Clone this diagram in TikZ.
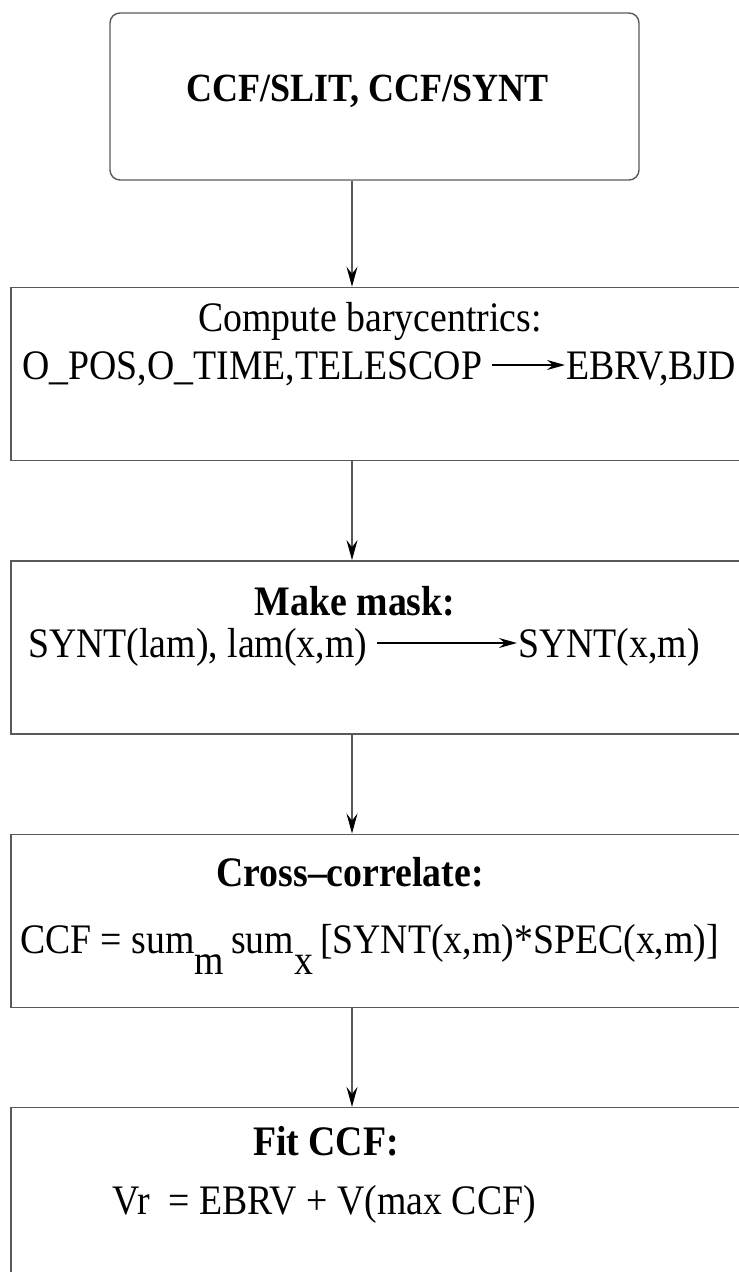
\documentclass[tikz,border=0pt]{standalone}
\usepackage{fontspec}
\setmainfont{Liberation Serif}[FakeStretch=0.9]
\usetikzlibrary{positioning,arrows.meta}

\begin{document}
\begin{tikzpicture} [
    x=1pt, y=1pt,
    node distance = 99pt,
    stage/.style   = {draw=black!65,
                      line width=1.4pt,
                      minimum width=760pt,
                      minimum height=173pt},
    head/.style    = {font=\fontsize{42}{50}\selectfont\bfseries,
                      inner sep=0pt,
                      anchor=base},
    body/.style    = {font=\fontsize{42}{50}\selectfont,
                      inner sep=0pt},
    arr/.style     = {draw=black!65,
                      line width=1.4pt,
                      -{Stealth[length=20pt,width=11pt,inset=7pt,color=black]}},
    txtarr/.style  = {line width=1.8pt,
                      shorten <=10pt, shorten >=1pt,
                      -{Stealth[length=18pt,width=10pt,inset=6pt]}}
]
\useasboundingbox (0,0) rectangle (739,-1272);
\coordinate (spine) at (352,0);

\node (start) [stage, rounded corners=10pt, minimum width=529pt, minimum height=167pt] at (374.5,-96.5) {};
\node (bary)  [stage, below=106pt of start, xshift=16.5pt] {};
\node (mask)  [stage, below=of bary] {};
\node (cross) [stage, below=of mask] {};
\node (fit)   [stage, below=of cross, minimum height=220pt] {};

\node (start-t) [head, font=\fontsize{40}{48}\selectfont\bfseries] at (367.5,-101) {CCF/SLIT, CCF/SYNT};

\node (bary-t)   [body, anchor=base] at (370,-331) {Compute barycentrics:};
\node (bary-in)  [body, anchor=base west] at (22,-379) {O\_POS,O\_TIME,TELESCOP};
\node (bary-out) [body, anchor=base east] at (736,-379) {EBRV,BJD};

\node (mask-t)   [head] at (355,-615) {Make mask:};
\node (mask-in)  [body, anchor=base west] at (28,-657) {SYNT(lam), lam(x,m)};
\node (mask-out) [body, anchor=base east] at (700,-657) {SYNT(x,m)};

\node (cross-t)  [head] at (350,-886) {Cross--correlate:};
\node (cross-l)  [body, anchor=base] at (369.5,-953) {%
CCF = sum\raisebox{-0.5em}{m}\,sum\raisebox{-0.5em}{x}\,[SYNT(x,m)*SPEC(x,m)]};

\node (fit-t)    [head] at (326,-1155) {Fit CCF:};
\node (fit-l)    [body, anchor=base west] at (112,-1214) {Vr\ \ = EBRV + V(max CCF)};

\draw[arr] (start.south -| spine) -- (bary.north -| spine);
\draw[arr] (bary.south -| spine)  -- (mask.north -| spine);
\draw[arr] (mask.south -| spine)  -- (cross.north -| spine);
\draw[arr] (cross.south -| spine) -- (fit.north -| spine);

\draw[txtarr] ([yshift=14pt]bary-in.base east) -- ([yshift=14pt]bary-out.base west);
\draw[txtarr] ([yshift=14pt]mask-in.base east) -- ([yshift=14pt]mask-out.base west);
\end{tikzpicture}
\end{document}
